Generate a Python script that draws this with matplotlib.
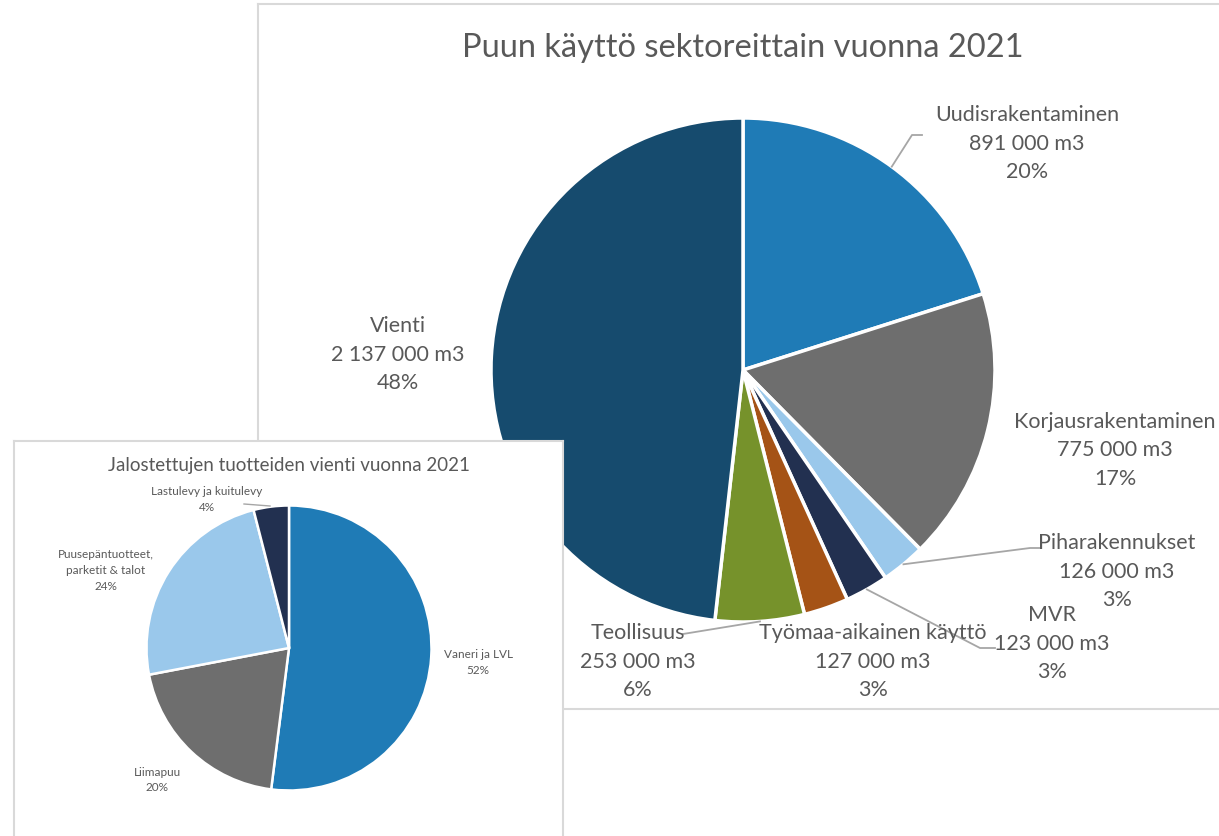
import numpy as np
import matplotlib
matplotlib.use("Agg")
import matplotlib.pyplot as plt

plt.rcParams['font.family'] = ['Lato', 'DejaVu Sans']

# ---- data: main chart ----
main_title = "Puun käyttö sektoreittain vuonna 2021"
main_labels = ["Uudisrakentaminen", "Korjausrakentaminen", "Piharakennukset", "MVR",
               "Työmaa-aikainen käyttö", "Teollisuus", "Vienti"]
main_values = [891000, 775000, 126000, 123000, 127000, 253000, 2137000]
main_pct = ["20%", "17%", "3%", "3%", "3%", "6%", "48%"]
main_colors = ["#1F7BB6", "#6E6E6E", "#9AC8EB", "#223050", "#A55316", "#76922B", "#164B6E"]

# ---- data: inset chart ----
inset_title = "Jalostettujen tuotteiden vienti vuonna 2021"
inset_labels = ["Vaneri ja LVL", "Liimapuu", "Puusepäntuotteet,\nparketit & talot", "Lastulevy ja kuitulevy"]
inset_values = [52, 20, 24, 4]
inset_colors = ["#1F7BB6", "#6E6E6E", "#9AC8EB", "#223050"]

W, H = 1219, 836
fig = plt.figure(figsize=(W / 100, H / 100), dpi=100)
fig.patch.set_facecolor("white")
TXT = "#595959"
EDGE = "#D9D9D9"


def fx(x):
    return x / W


def fy(y):
    return 1 - y / H


def fmt(v):
    s = f"{v:,}".replace(",", " ")
    return s + " m3"


# ---- main frame ----
frame = fig.add_axes([fx(258), fy(709), fx(1222 - 258), (709 - 4) / H], zorder=0)
frame.set_xticks([]); frame.set_yticks([])
for s in frame.spines.values():
    s.set_color(EDGE); s.set_linewidth(1.5)
frame.set_facecolor("white")

fig.text(fx(743), fy(48), main_title, ha="center", va="center", fontsize=23.5, color=TXT, zorder=2)

# ---- main pie ----
cx, cy, r = 743, 370, 252
ax = fig.add_axes([fx(cx - r), fy(cy + r), 2 * r / W, 2 * r / H], zorder=1)
ax.set_facecolor("none")
wedges, _ = ax.pie(main_values, colors=main_colors, startangle=90, counterclock=False, radius=1,
                   wedgeprops=dict(edgecolor="white", linewidth=2.5))
ax.set_xlim(-1, 1); ax.set_ylim(-1, 1); ax.set_aspect("equal"); ax.axis("off")

# label positions (pixel centers of the first line), leader elbows
main_pos = [(1027, 115), (1115, 422), (1117, 543), (1052, 615), (873, 633), (638, 633), (398, 326)]
leaders = {0: [(912, 135), (922, 135)],
           2: [(1030, 548), (1040, 548)],
           3: [(980, 648), (995, 648)],
           5: [(683, 634)]}
lh = 28.5
for i, (lab, v, p) in enumerate(zip(main_labels, main_values, main_pct)):
    x, y = main_pos[i]
    for k, line in enumerate([lab, fmt(v), p]):
        fig.text(fx(x), fy(y + k * lh), line, ha="center", va="center", fontsize=15.5, color=TXT, zorder=2)
    if i in leaders:
        w = wedges[i]
        ang = np.deg2rad((w.theta1 + w.theta2) / 2)
        sx = cx + r * np.cos(ang)
        sy = cy - r * np.sin(ang)
        pts = [(sx, sy)] + leaders[i]
        fig.add_artist(plt.Line2D([fx(p_[0]) for p_ in pts], [fy(p_[1]) for p_ in pts],
                                  color="#A6A6A6", lw=1.3, zorder=2))

# ---- inset frame ----
iframe = fig.add_axes([fx(14), fy(840), fx(563 - 14), (840 - 441) / H], zorder=3)
iframe.set_xticks([]); iframe.set_yticks([])
for s in iframe.spines.values():
    s.set_color(EDGE); s.set_linewidth(1.5)
iframe.set_facecolor("white")

fig.text(fx(289), fy(465), inset_title, ha="center", va="center", fontsize=13.5, color=TXT, zorder=5)

icx, icy, ir = 289, 648, 142.5
iax = fig.add_axes([fx(icx - ir), fy(icy + ir), 2 * ir / W, 2 * ir / H], zorder=4)
iax.set_facecolor("none")
iw, _ = iax.pie(inset_values, colors=inset_colors, startangle=90, counterclock=False, radius=1,
                wedgeprops=dict(edgecolor="white", linewidth=1.8))
iax.set_xlim(-1, 1); iax.set_ylim(-1, 1); iax.set_aspect("equal"); iax.axis("off")

inset_pos = [(478, 655), (157, 772), (106, 555), (207, 492)]
ilh = 15.5
for i, (lab, v) in enumerate(zip(inset_labels, inset_values)):
    x, y = inset_pos[i]
    lines = lab.split("\n") + [f"{v}%"]
    for k, line in enumerate(lines):
        fig.text(fx(x), fy(y + k * ilh), line, ha="center", va="center", fontsize=8.5, color=TXT, zorder=5)

# leader for small slice
fig.add_artist(plt.Line2D([fx(244), fx(270)], [fy(504), fy(506)], color="#A6A6A6", lw=1, zorder=5))

fig.savefig("out.png", dpi=100, facecolor="white")
